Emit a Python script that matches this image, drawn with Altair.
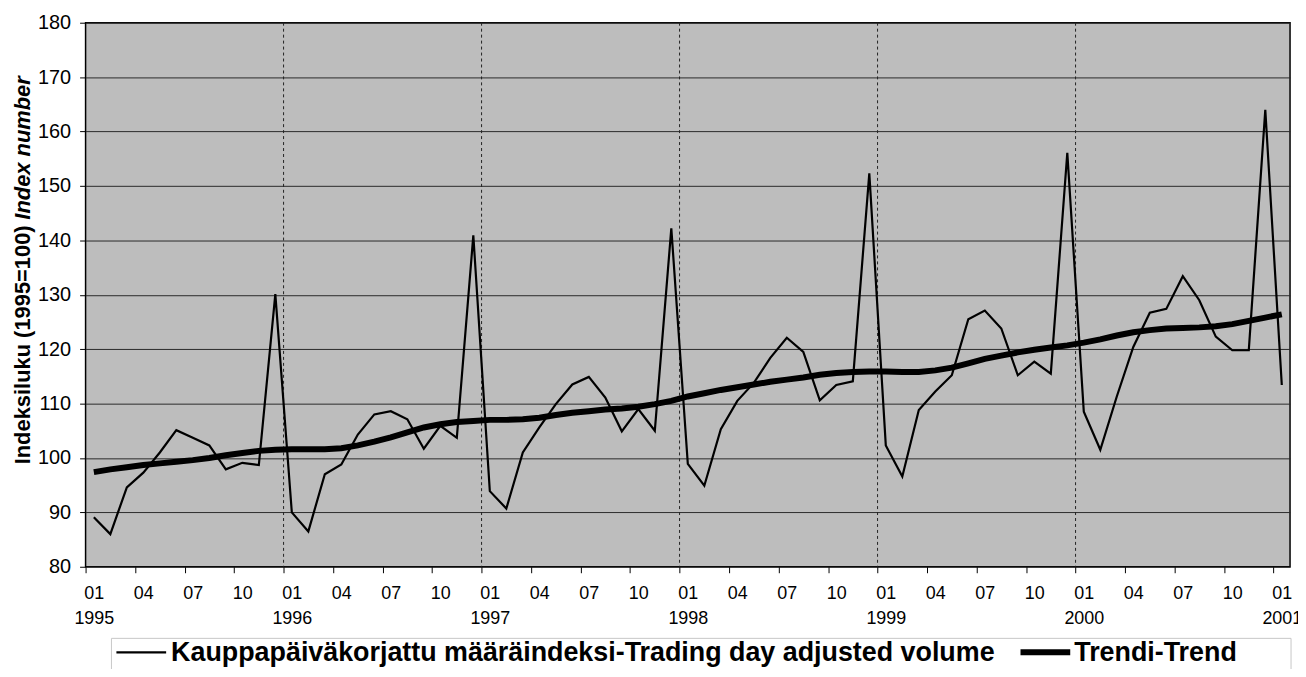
import json
import altair as alt
import pandas as pd

# ---- data (monthly, 1995-01 .. 2001-01) ----
RAW = [89.1, 86.0, 94.6, 97.3, 101.0, 105.1, 103.7, 102.3, 97.9, 99.1, 98.7, 130.1,
       90.0, 86.5, 97.0, 98.8, 104.3, 108.0, 108.6, 107.1, 101.7, 105.9, 103.7, 140.9,
       93.9, 90.7, 101.0, 105.6, 109.9, 113.5, 114.9, 111.1, 104.9, 109.0, 105.0, 142.2,
       98.9, 94.9, 105.3, 110.5, 113.8, 118.4, 122.1, 119.5, 110.6, 113.4, 114.1, 152.3,
       102.3, 96.6, 108.8, 112.2, 115.2, 125.5, 127.1, 123.8, 115.2, 117.7, 115.5, 156.1,
       108.5, 101.5, 111.3, 120.4, 126.7, 127.4, 133.4, 129.0, 122.3, 119.8, 119.8, 164.0,
       113.4]
TREND = [97.4, 97.9, 98.3, 98.7, 99.0, 99.3, 99.6, 100.0, 100.5, 100.9, 101.3, 101.5,
         101.6, 101.6, 101.6, 101.8, 102.3, 103.0, 103.8, 104.7, 105.6, 106.2, 106.6, 106.8,
         107.0, 107.0, 107.1, 107.4, 107.9, 108.3, 108.6, 108.9, 109.1, 109.4, 109.9, 110.5,
         111.3, 111.9, 112.5, 113.0, 113.5, 114.0, 114.4, 114.8, 115.3, 115.6, 115.8, 115.9,
         115.9, 115.8, 115.8, 116.1, 116.6, 117.4, 118.2, 118.8, 119.4, 119.9, 120.3, 120.7,
         121.2, 121.8, 122.5, 123.1, 123.5, 123.8, 123.9, 124.0, 124.2, 124.6, 125.2, 125.8,
         126.4]
SERIES_RAW = "Kauppapäiväkorjattu määräindeksi-Trading day adjusted volume"
SERIES_TREND = "Trendi-Trend"
MONTH_LABELS = ["01", "04", "07", "10"]
YEARS = ["1995", "1996", "1997", "1998", "1999", "2000", "2001"]
Y_TICKS = list(range(80, 181, 10))
Y_TITLE_1 = "Indeksiluku (1995=100)"
Y_TITLE_2 = "Index number"

N = len(RAW)
FONT = "Liberation Sans"

rows = []
for i, v in enumerate(RAW):
    rows.append({"pos": i + 0.5, "value": v, "series": SERIES_RAW})
for i, v in enumerate(TREND):
    rows.append({"pos": i + 0.5, "value": v, "series": SERIES_TREND})
df = pd.DataFrame(rows)

# category boundaries (ticks) and year boundaries (dashed grid)
boundaries = list(range(0, N + 1, 3))
year_bounds = pd.DataFrame({"pos": list(range(12, N - 1, 12))})
label_pos = [i + 0.5 for i in range(0, N, 3)]
tick_labels = []
for i in range(0, N, 3):
    m = MONTH_LABELS[(i % 12) // 3]
    y = YEARS[i // 12] if i % 12 == 0 else ""
    tick_labels.append([m, y])
label_expr = json.dumps(tick_labels, ensure_ascii=False) + "[round((datum.value - 0.5) / 3)]"

xscale = alt.Scale(domain=[0, N], nice=False, zero=False)
yscale = alt.Scale(domain=[80, 180], nice=False, zero=False)

year_rules = alt.Chart(year_bounds).mark_rule(
    color="#222222", strokeWidth=1, strokeDash=[3, 3]
).encode(
    x=alt.X("pos:Q", scale=xscale,
            axis=alt.Axis(values=boundaries, labels=False, ticks=True, tickSize=6,
                          tickColor="black", tickWidth=1, domain=False, grid=False,
                          orient="bottom", title=None)),
    y=alt.value(0),
    y2=alt.value(547),
)

lines = alt.Chart(df).mark_line(strokeJoin="miter", strokeCap="butt").encode(
    x=alt.X("pos:Q", scale=xscale,
            axis=alt.Axis(values=label_pos, labelExpr=label_expr, ticks=False, domain=False,
                          grid=False, orient="bottom", title=None, labelFontSize=18,
                          labelFont=FONT, labelColor="black", labelPadding=18,
                          labelLineHeight=25, labelFlush=False, labelOverlap=False)),
    y=alt.Y("value:Q", scale=yscale,
            axis=alt.Axis(values=Y_TICKS, grid=True, gridColor="#2a2a2a", gridWidth=1,
                          tickSize=6, tickColor="black", domain=False, title=None,
                          labelFontSize=20, labelFont=FONT, labelColor="black",
                          labelPadding=9)),
    color=alt.Color("series:N",
                    scale=alt.Scale(domain=[SERIES_RAW, SERIES_TREND], range=["black", "black"]),
                    legend=None),
    strokeWidth=alt.StrokeWidth("series:N",
                                scale=alt.Scale(domain=[SERIES_RAW, SERIES_TREND], range=[2.2, 6]),
                                legend=None),
)

one = pd.DataFrame({"k": [0]})
title1 = alt.Chart(one).mark_text(
    angle=270, align="left", baseline="middle", font=FONT, fontSize=22,
    fontWeight="bold", color="black"
).encode(x=alt.value(-63), y=alt.value(444), text=alt.value(Y_TITLE_1))
title2 = alt.Chart(one).mark_text(
    angle=270, align="left", baseline="middle", font=FONT, fontSize=22,
    fontWeight="bold", fontStyle="italic", color="black"
).encode(x=alt.value(-63), y=alt.value(198), text=alt.value(Y_TITLE_2))

# legend (drawn below the plot)
legend_box = alt.Chart(one).mark_rect(fill="white", stroke="#c8c8c8", strokeWidth=1).encode(
    x=alt.value(26), x2=alt.value(1212), y=alt.value(619), y2=alt.value(700)
)
legend_dash1 = alt.Chart(one).mark_rule(color="black", strokeWidth=2.2).encode(
    x=alt.value(31), x2=alt.value(81), y=alt.value(633)
)
legend_text1 = alt.Chart(one).mark_text(
    align="left", baseline="alphabetic", font=FONT, fontSize=27, fontWeight="bold", color="black"
).encode(x=alt.value(86), y=alt.value(642), text=alt.value(SERIES_RAW))
legend_dash2 = alt.Chart(one).mark_rule(color="black", strokeWidth=6).encode(
    x=alt.value(940), x2=alt.value(990), y=alt.value(633)
)
legend_text2 = alt.Chart(one).mark_text(
    align="left", baseline="alphabetic", font=FONT, fontSize=27, fontWeight="bold", color="black"
).encode(x=alt.value(994), y=alt.value(642), text=alt.value(SERIES_TREND))

chart = alt.layer(
    year_rules, lines, title1, title2,
    legend_box, legend_dash1, legend_text1, legend_dash2, legend_text2
).resolve_axis(
    x="independent"
).properties(
    width=1211, height=547,
    autosize=alt.AutoSizeParams(type="none"),
    padding={"left": 78, "top": 13, "right": 8, "bottom": 101},
    background="white",
).configure(
    font=FONT
).configure_view(
    stroke="black", strokeWidth=1.5, fill="#bdbdbd"
)

chart.save("out.html", embed_options={"renderer": "svg", "actions": False})
